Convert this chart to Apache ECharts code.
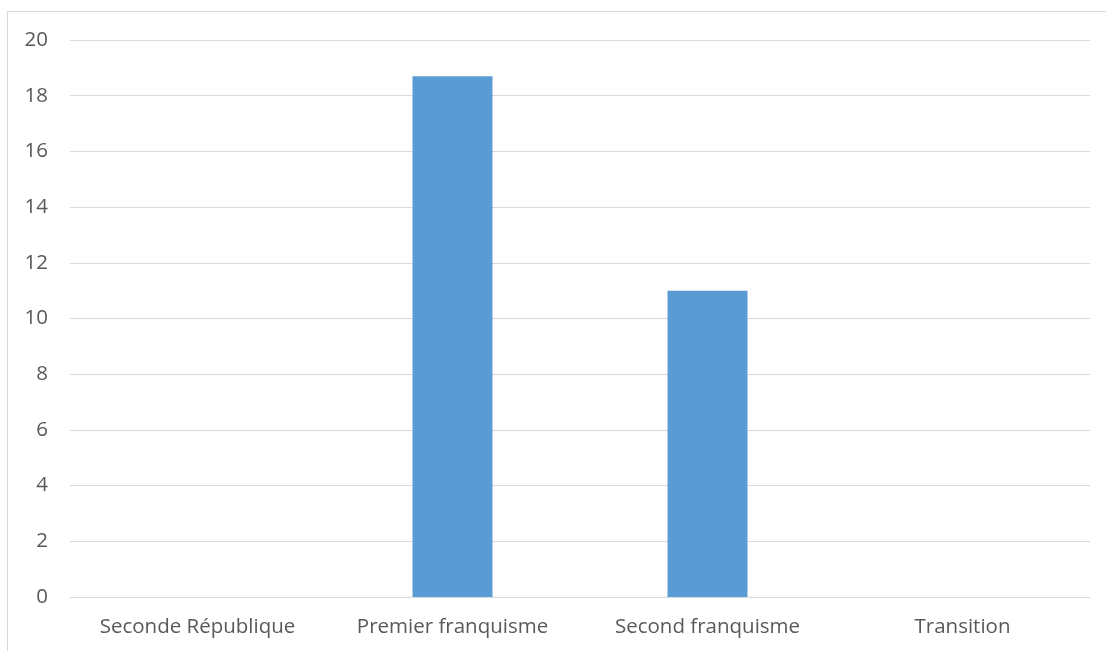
<!DOCTYPE html>
<html><head><meta charset="utf-8">
<script src="https://cdn.jsdelivr.net/npm/echarts@6/dist/echarts.min.js"></script>
<style>html,body{margin:0;padding:0;background:#fff}#c{width:1106px;height:651px;position:relative}
#b{position:absolute;left:7px;top:11px;width:1200px;height:800px;border:1px solid #d9d9d9;box-sizing:border-box;pointer-events:none}</style>
</head><body><div id="c"></div><div id="b"></div>
<script>
const categories = ["Seconde République", "Premier franquisme", "Second franquisme", "Transition"];
const values = [0, 18.7, 11, 0];
const yTicks = {min: 0, max: 20, interval: 2};
const chart = echarts.init(document.getElementById('c'), null, {renderer: 'canvas'});
const font = "'Open Sans', 'Noto Sans', sans-serif";
chart.setOption({
  animation: false,
  grid: {left: 70, right: 16, top: 40, bottom: 54, containLabel: false},
  xAxis: {
    type: 'category', data: categories,
    axisLine: {lineStyle: {color: '#d9d9d9', width: 1}},
    axisTick: {show: false},
    axisLabel: {color: '#595959', fontSize: 20.5, fontFamily: font, margin: 20}
  },
  yAxis: {
    type: 'value', min: yTicks.min, max: yTicks.max, interval: yTicks.interval,
    axisLine: {show: false}, axisTick: {show: false},
    splitLine: {lineStyle: {color: '#d9d9d9', width: 1}},
    axisLabel: {color: '#595959', fontSize: 20.5, fontFamily: font, margin: 22}
  },
  series: [{type: 'bar', data: values, barWidth: 80, itemStyle: {color: '#5b9bd5'}}]
});
</script></body></html>
